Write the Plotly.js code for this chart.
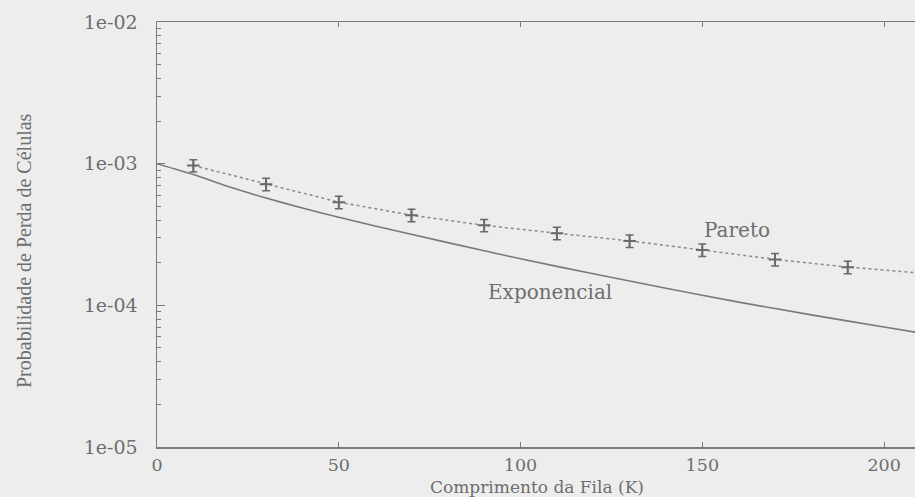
<!DOCTYPE html>
<html>
<head>
<meta charset="utf-8">
<script src="https://cdn.plot.ly/plotly-3.0.1.min.js"></script>
<style>
  html, body { margin: 0; padding: 0; background: #ededed; }
  #chart { width: 915px; height: 497px; }
</style>
</head>
<body>
<div id="chart"></div>
<script>
// Exponencial (solid curve)
const expX = [0, 10, 20, 30, 40, 50, 60, 80, 100, 120, 140, 160, 180, 200, 210];
const expY = [1.0e-3, 8.38e-4, 6.84e-4, 5.72e-4, 4.86e-4, 4.18e-4, 3.63e-4, 2.77e-4, 2.13e-4, 1.67e-4, 1.32e-4, 1.054e-4, 8.56e-5, 7.03e-5, 6.38e-5];

// Pareto (simulated points with error bars)
const parX = [10, 30, 50, 70, 90, 110, 130, 150, 170, 190];
const parY = [9.7e-4, 7.16e-4, 5.35e-4, 4.33e-4, 3.67e-4, 3.23e-4, 2.85e-4, 2.46e-4, 2.11e-4, 1.86e-4];
const parErrPct = 10;

// Pareto dotted curve
const parLineX = [10, 30, 50, 70, 90, 110, 130, 150, 170, 190, 210];
const parLineY = [9.7e-4, 7.16e-4, 5.35e-4, 4.33e-4, 3.67e-4, 3.23e-4, 2.85e-4, 2.46e-4, 2.11e-4, 1.86e-4, 1.69e-4];

// Ticks
const xTicks = [0, 50, 100, 150, 200];
const yTickVals = [1e-5, 1e-4, 1e-3, 1e-2];
const yTickText = ['1e-05', '1e-04', '1e-03', '1e-02'];

const minorVals = [];
[-5, -4, -3].forEach(e => { for (let m = 2; m <= 9; m++) minorVals.push(m * Math.pow(10, e)); });

const lineCol = '#7a7a7a';
const textCol = '#6e6e6e';
const font = 'DejaVu Serif, serif';
const fontY = 'Liberation Serif, Times New Roman, serif';

const traces = [
  { x: expX, y: expY, mode: 'lines', line: { color: lineCol, width: 1.6, shape: 'spline', smoothing: 0.6 }, showlegend: false },
  { x: parLineX, y: parLineY, mode: 'lines', line: { color: '#8a8a8a', width: 1.5, dash: 'dot' }, showlegend: false },
  { x: parX, y: parY, mode: 'markers',
    marker: { symbol: 'cross-thin', size: 9, line: { color: '#6a6a6a', width: 2 }, color: '#6a6a6a' },
    error_y: { type: 'percent', value: parErrPct, color: '#6a6a6a', thickness: 1.5, width: 4 },
    showlegend: false }
];

const layout = {
  width: 915, height: 497,
  margin: { l: 157, r: 0, t: 22, b: 50 },
  paper_bgcolor: '#ededed', plot_bgcolor: '#ededed',
  font: { family: font, color: textCol, size: 18 },
  xaxis: {
    range: [0, 208.5], tickvals: xTicks, ticks: 'inside', ticklen: 5, tickcolor: lineCol,
    showline: true, linecolor: lineCol, linewidth: 1.5, mirror: 'ticks', showgrid: false, zeroline: false,
    ticklabelstandoff: 1,
    tickfont: { family: font, size: 17.5, color: textCol }
  },
  yaxis: {
    type: 'log', range: [-5, -2], tickvals: yTickVals, ticktext: yTickText,
    ticks: 'inside', ticklen: 8, tickcolor: lineCol, ticklabelstandoff: 14,
    showline: true, linecolor: lineCol, linewidth: 1.5, mirror: false, showgrid: false, zeroline: false,
    tickfont: { family: font, size: 19, color: textCol },
    minor: { tickvals: minorVals, ticks: 'inside', ticklen: 4, tickcolor: lineCol, showgrid: false }
  },
  annotations: [
    { text: 'Comprimento da Fila (K)', xref: 'paper', yref: 'paper', x: (537 - 157) / 758, y: -(487 - 447) / 425,
      yanchor: 'middle', xanchor: 'center', showarrow: false, font: { family: font, size: 17, color: textCol } },
    { text: 'Probabilidade de Perda de Células', xref: 'paper', yref: 'paper', x: -(157 - 24) / 758, y: (447 - 251) / 425,
      xanchor: 'center', yanchor: 'middle', textangle: -90, showarrow: false, font: { family: fontY, size: 20, color: textCol } },
    { text: 'Pareto', xref: 'paper', yref: 'paper', x: (737 - 157) / 758, y: (447 - 230) / 425,
      xanchor: 'center', yanchor: 'middle', showarrow: false, font: { family: font, size: 20, color: textCol } },
    { text: 'Exponencial', xref: 'paper', yref: 'paper', x: (550 - 157) / 758, y: (447 - 292) / 425,
      xanchor: 'center', yanchor: 'middle', showarrow: false, font: { family: font, size: 20, color: textCol } }
  ]
};

Plotly.newPlot('chart', traces, layout, { displayModeBar: false, staticPlot: true });
</script>
</body>
</html>
